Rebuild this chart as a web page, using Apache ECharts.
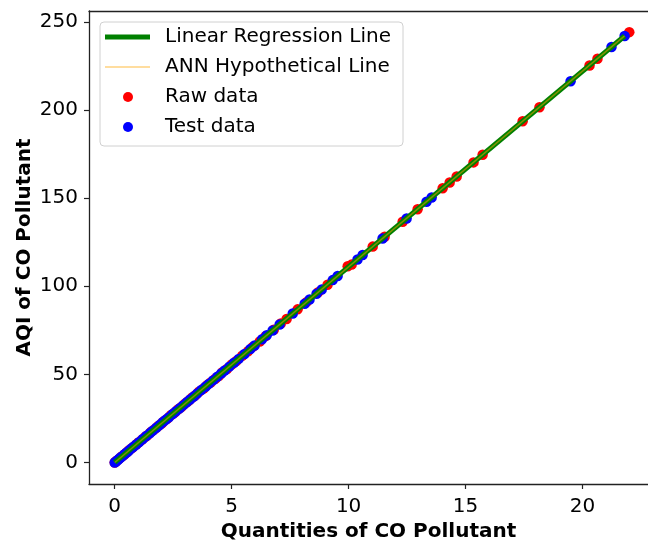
<!DOCTYPE html>
<html>
<head>
<meta charset="utf-8">
<script src="https://cdn.jsdelivr.net/npm/echarts@6/dist/echarts.min.js"></script>
<style>
  html, body { margin: 0; padding: 0; background: #fff; }
  #chart { width: 648px; height: 543px; }
</style>
</head>
<body>
<div id="chart"></div>
<script>
  // raw data (red)
  const rawX = [0, 0.05, 0.1, 0.2, 0.3, 0.4, 0.5, 0.6, 0.75, 0.9, 1.0, 1.15, 1.3, 1.4, 1.55, 1.7, 1.85, 2.0, 2.1, 2.25,
    2.4, 2.55, 2.7, 2.85, 3.0, 3.15, 3.3, 3.45, 3.6, 3.8, 3.95, 4.1, 4.3, 4.45, 4.6, 4.8, 5.0, 5.2, 5.45, 5.7,
    5.9, 6.2, 6.45, 6.8, 7.1, 7.35, 7.82, 8.2, 8.7, 9.1, 9.96, 10.13, 11.03, 11.54, 12.31, 12.95, 14.02, 14.32, 14.62, 15.34,
    15.73, 17.44, 18.16, 20.3, 20.64, 22.0]
  const rawY = [0, 0.6, 1.2, 2.2, 3.4, 4.4, 5.5, 6.8, 8.3, 10.0, 11.2, 12.7, 14.5, 15.5, 17.3, 18.8, 20.6, 22.1, 23.4, 24.9,
    26.8, 28.2, 30.1, 31.5, 33.4, 34.9, 36.7, 38.2, 40.1, 42.0, 43.9, 45.4, 47.5, 49.0, 51.2, 53.1, 55.6, 57.6, 60.6, 63.1,
    65.6, 68.7, 71.7, 75.3, 78.9, 81.4, 86.9, 91.0, 96.6, 100.9, 111.4, 112.3, 122.5, 128.1, 136.6, 143.7, 155.6, 158.9, 162.3, 170.3,
    174.6, 193.6, 201.6, 225.3, 229.1, 244.2]

  // test data (blue)
  const testX = [0, 0.05, 0.12, 0.18, 0.25, 0.33, 0.42, 0.5, 0.58, 0.68, 0.8, 0.92, 1.05, 1.2, 1.35, 1.5, 1.62, 1.78, 1.92, 2.05,
    2.18, 2.32, 2.48, 2.62, 2.78, 2.92, 3.08, 3.22, 3.38, 3.52, 3.7, 3.88, 4.02, 4.2, 4.38, 4.55, 4.7, 4.9, 5.1, 5.3,
    5.55, 5.8, 5.98, 6.3, 6.5, 6.75, 7.05, 7.61, 8.12, 8.33, 8.63, 8.85, 9.32, 9.53, 10.38, 10.6, 11.45, 12.48, 13.33, 13.55,
    19.49, 21.24, 21.8]
  const testY = [0, 0.5, 1.3, 2.0, 2.8, 3.6, 4.7, 5.6, 6.4, 7.6, 8.9, 10.2, 11.6, 13.3, 15.0, 16.6, 18.0, 19.7, 21.3, 22.8,
    24.2, 25.7, 27.5, 29.1, 30.8, 32.4, 34.2, 35.7, 37.5, 39.1, 41.1, 43.0, 44.6, 46.6, 48.6, 50.5, 52.2, 54.4, 56.6, 58.8,
    61.6, 64.4, 66.4, 69.9, 72.2, 74.9, 78.3, 84.5, 90.1, 92.5, 95.8, 98.2, 103.5, 105.8, 115.2, 117.7, 127.1, 138.5, 148.0, 150.4,
    216.3, 235.8, 242.0]

  // fitted lines
  const lineX = [0, 21.8]
  const regY = [0.1, 242.0]
  const annY = [0.0, 242.1]

  const xTicks = [0, 5, 10, 15, 20]
  const yTicks = [0, 50, 100, 150, 200, 250]

  const zip = (xs, ys) => xs.map((x, i) => [x, ys[i]])
  const font = 'DejaVu Sans'

  const legendBase = {
    padding: 0,
    selectedMode: false,
    textStyle: { fontFamily: font, fontSize: 20, color: '#000', lineHeight: 24 },
  }

  const myChart = echarts.init(document.getElementById('chart'))
  myChart.setOption({
    animation: false,
    grid: { left: 89, top: 11, bottom: 59, right: 0, containLabel: false, outerBoundsMode: 'none' },
    xAxis: [
      {
        type: 'value',
        min: -1.1,
        max: 22.8,
        name: 'Quantities of CO Pollutant',
        nameLocation: 'middle',
        nameGap: 38,
        nameTextStyle: { fontFamily: font, fontSize: 20, fontWeight: 'bold', color: '#000' },
        splitLine: { show: false },
        axisLine: { show: true, onZero: false, lineStyle: { color: '#222', width: 1.3 } },
        axisTick: { show: true, length: 5, customValues: xTicks, lineStyle: { color: '#222', width: 1.2 } },
        axisLabel: { customValues: xTicks, margin: 13, fontFamily: font, fontSize: 20, color: '#000' },
      },
      {
        // top spine
        type: 'value',
        position: 'top',
        min: -1.1,
        max: 22.8,
        splitLine: { show: false },
        axisLine: { show: true, onZero: false, lineStyle: { color: '#222', width: 1.3 } },
        axisTick: { show: false },
        axisLabel: { show: false },
      },
    ],
    yAxis: {
      type: 'value',
      min: -12.2,
      max: 256.2,
      name: 'AQI of CO Pollutant',
      nameLocation: 'middle',
      nameGap: 54,
      nameMoveOverlap: false,
      nameTextStyle: { fontFamily: font, fontSize: 20, fontWeight: 'bold', color: '#000' },
      splitLine: { show: false },
      axisLine: { show: true, onZero: false, lineStyle: { color: '#222', width: 1.3 } },
      axisTick: { show: true, length: 5, customValues: yTicks, lineStyle: { color: '#222', width: 1.2 } },
      axisLabel: { customValues: yTicks, margin: 11, fontFamily: font, fontSize: 20, color: '#000' },
    },
    graphic: [{
      type: 'rect',
      shape: { x: 100, y: 22, width: 303, height: 124, r: 4 },
      style: { fill: 'rgba(255,255,255,0.8)', stroke: '#d0d0d0', lineWidth: 1 },
      z: 50,
    }],
    legend: [
      {
        ...legendBase, left: 105, top: 25, itemWidth: 45, itemHeight: 14,
        data: [{ name: 'Linear Regression Line', icon: 'path://M0,0h45v5h-45z' }],
        textStyle: { ...legendBase.textStyle, padding: [0, 0, 0, 10] }, z: 60,
      },
      {
        ...legendBase, left: 105, top: 55, itemWidth: 45, itemHeight: 14,
        data: [{ name: 'ANN Hypothetical Line', icon: 'path://M0,0h45v1.5h-45z' }],
        textStyle: { ...legendBase.textStyle, padding: [0, 0, 0, 10] }, z: 60,
      },
      {
        ...legendBase, left: 123, top: 85, itemWidth: 10, itemHeight: 10,
        data: [{ name: 'Raw data', icon: 'circle' }],
        textStyle: { ...legendBase.textStyle, padding: [0, 0, 0, 27] }, z: 60,
      },
      {
        ...legendBase, left: 123, top: 115, itemWidth: 10, itemHeight: 10,
        data: [{ name: 'Test data', icon: 'circle' }],
        textStyle: { ...legendBase.textStyle, padding: [0, 0, 0, 27] }, z: 60,
      },
    ],
    series: [
      {
        name: 'Raw data',
        type: 'scatter',
        data: zip(rawX, rawY),
        symbolSize: 10.5,
        itemStyle: { color: '#ff0000', opacity: 1 },
        z: 2,
      },
      {
        name: 'Test data',
        type: 'scatter',
        data: zip(testX, testY),
        symbolSize: 10.5,
        itemStyle: { color: '#0000ff', opacity: 1 },
        z: 3,
      },
      {
        name: 'Linear Regression Line',
        type: 'line',
        data: zip(lineX, regY),
        symbol: 'none',
        lineStyle: { color: '#008000', width: 5 },
        itemStyle: { color: '#008000' },
        z: 4,
      },
      {
        name: 'ANN Hypothetical Line',
        type: 'line',
        data: zip(lineX, annY),
        symbol: 'none',
        lineStyle: { color: 'rgba(255,165,0,0.5)', width: 1.5 },
        itemStyle: { color: 'rgba(255,165,0,0.5)' },
        z: 5,
      },
    ],
  })
</script>
</body>
</html>
